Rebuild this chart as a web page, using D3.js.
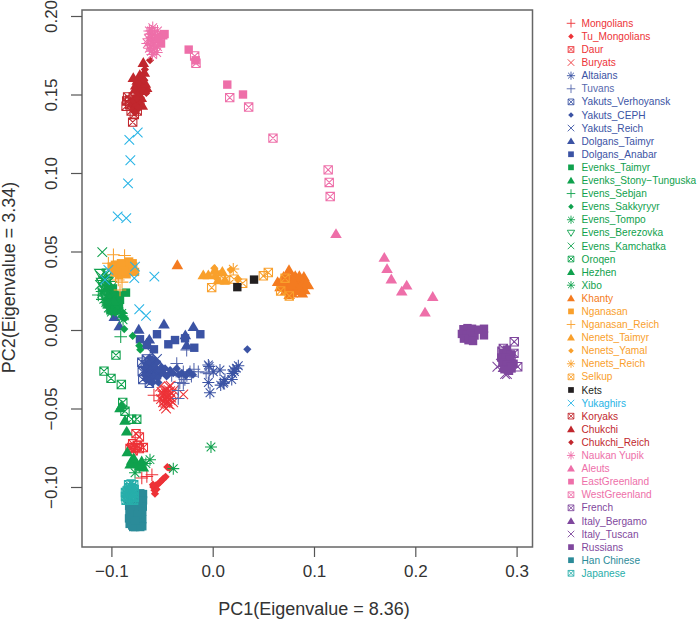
<!DOCTYPE html>
<html><head><meta charset="utf-8">
<script src="https://cdn.jsdelivr.net/npm/d3@7"></script>
<style>html,body{margin:0;padding:0;background:#fff}svg{display:block}text{font-family:"Liberation Sans",Arial,sans-serif}</style>
</head><body><div id="c"></div>
<script>
const xTicks=[-0.1,0,0.1,0.2,0.3];
const yTicks=[-0.10,-0.05,0,0.05,0.10,0.15,0.20];
const xTickLabels=["−0.1","0.0","0.1","0.2","0.3"];
const yTickLabels=["−0.10","−0.05","0.00","0.05","0.10","0.15","0.20"];
const Mongolians=[[-0.070,-0.0943],[-0.065,-0.0933],[-0.060,-0.0922],[-0.058,-0.0415],[-0.048,-0.039],[-0.052,-0.045]];
const Tu_Mongolians=[[-0.0586,-0.100],[-0.056,-0.099],[-0.052,-0.0969],[-0.0487,-0.0947],[-0.057,-0.1043],[-0.0448,-0.0873],[-0.0428,-0.0879],[-0.0545,-0.0985],[-0.0505,-0.096],[-0.0575,-0.102],[-0.0555,-0.1015],[-0.0465,-0.0935],[-0.059,-0.0985]];
const Daur=[[-0.0757,-0.066],[-0.0724,-0.0681],[-0.080,-0.0749],[-0.0767,-0.0749],[-0.0685,-0.0749],[-0.0816,-0.0755],[-0.0724,-0.0755],[-0.0785,-0.077],[-0.0745,-0.0735],[-0.079,-0.0725]];
const Buryats=[[-0.052,-0.036],[-0.029,-0.041],[-0.045,-0.0435],[-0.048,-0.041],[-0.042,-0.039],[-0.051,-0.044],[-0.044,-0.047],[-0.047,-0.038],[-0.041,-0.043],[-0.049,-0.046],[-0.046,-0.050],[-0.043,-0.036],[-0.039,-0.046],[-0.046,-0.0405],[-0.0435,-0.0415],[-0.0475,-0.0435],[-0.0445,-0.0455],[-0.042,-0.0445],[-0.0495,-0.0415],[-0.0465,-0.0465],[-0.0405,-0.0405],[-0.0455,-0.0385],[-0.0425,-0.0475],[-0.0505,-0.0395],[-0.048,-0.0485],[-0.0385,-0.0385],[-0.0445,-0.0425],[-0.0465,-0.045],[-0.0415,-0.0355]];
const Altaians=[[-0.0043,-0.0223],[-0.0027,-0.040],[-0.0043,-0.0334],[0.0079,-0.0351],[0.0121,-0.0315],[0.0188,-0.0315],[0.0006,-0.0266],[0.0072,-0.0255],[0.0203,-0.0255],[0.0253,-0.0228],[0.0233,-0.0243],[0.0112,-0.0331],[0.0196,-0.0277],[0.0105,-0.034],[-0.0035,-0.0232],[0.0215,-0.0265]];
const Tuvans=[[-0.0355,-0.0213],[-0.029,-0.0266],[-0.0224,-0.0266],[-0.0142,-0.0266],[-0.0257,-0.0128],[-0.029,-0.034],[-0.034,-0.0436],[-0.034,-0.0385],[-0.0306,-0.0298],[-0.0185,-0.025],[-0.0255,-0.029],[-0.0405,-0.029],[-0.0065,-0.0272],[-0.0035,-0.0278],[-0.0345,-0.0255],[-0.0275,-0.0315],[-0.021,-0.0295],[-0.0325,-0.0335]];
const Yakuts_Verhoyansk=[[-0.070,-0.0205],[-0.0695,-0.0265],[-0.069,-0.0315],[-0.0655,-0.0185],[-0.0645,-0.0245],[-0.0635,-0.030],[-0.0625,-0.034],[-0.060,-0.0205],[-0.059,-0.0265],[-0.058,-0.0315],[-0.056,-0.0225],[-0.0555,-0.0285],[-0.0665,-0.022],[-0.0615,-0.0275]];
const Yakuts_CEPH=[[0.0342,-0.0123],[-0.042,-0.0255],[-0.0355,-0.0245],[-0.0485,-0.0275],[-0.052,-0.0285],[-0.056,-0.0245],[-0.061,-0.022],[-0.0645,-0.0275],[-0.0605,-0.031],[-0.0575,-0.0195],[-0.0665,-0.025],[-0.0625,-0.0175],[-0.0455,-0.0295],[-0.039,-0.0275],[-0.0305,-0.0275],[-0.0265,-0.029],[-0.066,-0.0215],[-0.0645,-0.0225],[-0.0625,-0.0205],[-0.0595,-0.0185],[-0.0585,-0.0225],[-0.0545,-0.0205],[-0.0565,-0.0275],[-0.059,-0.0255],[-0.0615,-0.0255],[-0.0635,-0.029],[-0.0655,-0.0315],[-0.0585,-0.0295],[-0.0625,-0.0325],[-0.0595,-0.0335],[-0.0545,-0.0305],[-0.0525,-0.0255],[-0.0505,-0.0235],[-0.047,-0.0245],[-0.044,-0.0285],[-0.0335,-0.0285],[-0.023,-0.0265],[-0.0195,-0.0285],[-0.0675,-0.0285],[-0.0535,-0.0335]];
const Yakuts_Reich=[[-0.062,-0.024],[-0.058,-0.030],[-0.065,-0.028],[-0.0595,-0.015],[-0.055,-0.0185]];
const Dolgans_Taimyr=[[-0.0971,0.0085],[-0.0922,0.0026],[-0.073,0.0004],[-0.0626,-0.0059],[-0.0481,0.0038],[-0.0191,0.0021],[-0.027,-0.0032],[-0.0257,-0.0096],[-0.0652,-0.0085]];
const Dolgans_Anabar=[[-0.0718,-0.0059],[-0.055,-0.0027],[-0.058,-0.0123],[-0.0438,-0.0091],[-0.0372,-0.0064],[-0.0273,-0.0053],[-0.0122,-0.0027],[-0.0182,-0.0113],[-0.0649,-0.0096]];
const Evenks_Taimyr=[[-0.0856,0.0238],[-0.0915,0.0192],[-0.1035,0.0265],[-0.101,0.024],[-0.099,0.019],[-0.097,0.0225],[-0.095,0.0165],[-0.0935,0.022],[-0.0975,0.0155],[-0.0945,0.0125],[-0.1025,0.0205],[-0.104,0.0165],[-0.1005,0.0155],[-0.0985,0.0265],[-0.0955,0.0205],[-0.0925,0.0155],[-0.0975,0.012],[-0.101,0.0125],[-0.0995,0.0225]];
const Evenks_Stony_Tunguska=[[-0.103,0.022],[-0.1,0.017],[-0.0955,0.0145],[-0.1015,0.0285],[-0.0975,0.0185]];
const Evens_Sebjan=[[-0.0908,-0.0043],[-0.1129,0.0223],[-0.109,0.0195],[-0.105,0.0235],[-0.1065,0.0275]];
const Evens_Sakkyryyr=[[-0.0873,0.0006],[-0.079,-0.0038],[-0.0725,-0.01],[-0.0898,0.0085],[-0.0885,0.011],[-0.0715,-0.0125],[-0.0865,0.0075]];
const Evens_Tompo=[[-0.0898,0.0106],[-0.103,0.014],[-0.1065,0.0255],[-0.0885,0.0065],[-0.1,0.0115],[-0.1075,0.0195],[-0.1085,0.0315],[-0.1045,0.0335],[-0.0925,0.0115],[-0.1055,0.0175],[-0.1095,0.0245]];
const Evens_Berezovka=[[-0.1113,0.0362],[-0.1079,0.0276],[-0.1045,0.0315],[-0.107,0.0225],[-0.1035,0.0365],[-0.1095,0.0305],[-0.1005,0.0285]];
const Evens_Kamchatka=[[-0.109,0.0496],[-0.1113,0.0287],[-0.1075,0.0325],[-0.1045,0.0265],[-0.109,0.0235],[-0.1055,0.0355],[-0.1025,0.0305],[-0.1105,0.0345],[-0.1065,0.0275]];
const Oroqen=[[-0.0955,-0.016],[-0.1073,-0.0262],[-0.1004,-0.0308],[-0.0902,-0.0347],[-0.0888,-0.0462],[-0.0866,-0.0517],[-0.08,-0.0568],[-0.075,-0.0568]];
const Hezhen=[[-0.0898,-0.0479],[-0.0866,-0.0575],[-0.0849,-0.0645],[-0.0915,-0.0496],[-0.0843,-0.0777],[-0.08,-0.083],[-0.0701,-0.0835],[-0.0685,-0.0873],[-0.075,-0.0851],[-0.078,-0.0815],[-0.072,-0.0865],[-0.0815,-0.0855]];
const Xibo=[[-0.0017,-0.0745],[-0.0389,-0.0883],[-0.0619,-0.0826],[-0.0767,-0.0909],[-0.066,-0.085],[-0.072,-0.087]];
const Khanty=[[-0.0349,0.0415],[0.0753,0.0383],[0.0641,0.0308],[0.0944,0.0287],[0.0812,0.0298],[0.07,0.034],[0.073,0.03],[0.077,0.026],[0.082,0.025],[0.088,0.028],[0.09,0.034],[0.068,0.029],[0.079,0.034],[0.085,0.032],[0.072,0.025],[0.091,0.0255],[0.0745,0.0345],[0.0765,0.031],[0.0805,0.0275],[0.0845,0.0275],[0.0785,0.0235],[0.0745,0.0275],[0.0865,0.025],[0.0895,0.0305],[0.0705,0.0275],[0.0835,0.0295],[0.0725,0.0325],[0.0885,0.0235],[0.0665,0.0275],[0.0815,0.0345],[0.0775,0.0285],[0.0855,0.0345],[0.0685,0.0315],[0.0925,0.03],[0.0755,0.0225],[0.0795,0.0315]];
const Nganasan=[[-0.0997,0.0404],[-0.0965,0.0375],[-0.0945,0.0415],[-0.0915,0.0385],[-0.0885,0.0415],[-0.0855,0.0395],[-0.0825,0.0436],[-0.0785,0.0405],[-0.0767,0.037],[-0.0925,0.035],[-0.085,0.0355],[-0.079,0.0425],[-0.0965,0.0415],[-0.0905,0.0425],[-0.0815,0.0385],[-0.0875,0.0375],[-0.0945,0.0365]];
const Nganasan_Reich=[[-0.098,0.0479],[-0.103,0.0425],[-0.0932,0.0319],[-0.096,0.0345],[-0.087,0.0475],[-0.0895,0.0305],[-0.0915,0.0255]];
const Nenets_Taimyr=[[-0.0093,0.0351],[-0.0043,0.0351],[0.0023,0.0383],[0.0095,0.0372],[0.0121,0.0319],[0.0055,0.0319]];
const Nenets_Yamal=[[0.0016,0.0394],[0.0023,0.034],[0.0178,0.0383],[0.0253,0.0324]];
const Nenets_Reich=[[0.0203,0.0388],[0.0035,0.0355]];
const Selkup=[[-0.001,0.027],[0.0121,0.0319],[0.021,0.0324],[0.0296,0.0298],[0.05,0.0345],[0.0549,0.0366],[0.0671,0.0249],[0.0756,0.0217],[0.0714,0.033]];
const Kets=[[0.0243,0.0273],[0.0408,0.0321]];
const Yukaghirs=[[-0.074,0.1258],[-0.0823,0.1211],[-0.0813,0.1081],[-0.0836,0.0934],[-0.0938,0.0724],[-0.0853,0.0713],[-0.0576,0.034],[-0.0767,0.0404],[-0.0774,0.033],[-0.103,0.0383],[-0.0725,0.0132],[-0.0658,0.0091],[-0.1063,0.0319]];
const Koryaks=[[-0.079,0.1324],[-0.0774,0.1373],[-0.075,0.1469],[-0.0849,0.1458],[-0.082,0.1435],[-0.0855,0.1425],[-0.0785,0.1485],[-0.0765,0.142],[-0.072,0.1455],[-0.0805,0.1395],[-0.0735,0.1505],[-0.084,0.1485],[-0.0775,0.1445],[-0.0745,0.1395],[-0.082,0.1465]];
const Chukchi=[[-0.0685,0.1703],[-0.0784,0.1607],[-0.072,0.1625],[-0.0652,0.1543],[-0.0725,0.153],[-0.0695,0.1585],[-0.076,0.156],[-0.0675,0.164],[-0.0705,0.148],[-0.0745,0.159],[-0.0705,0.1555],[-0.0735,0.1575],[-0.0685,0.1525],[-0.0765,0.1535],[-0.0745,0.1495],[-0.0695,0.1615],[-0.0665,0.157],[-0.0785,0.1445],[-0.0755,0.1425],[-0.0725,0.1445],[-0.0695,0.143]];
const Chukchi_Reich=[[-0.0619,0.1718],[-0.067,0.166],[-0.0675,0.159],[-0.0655,0.151],[-0.0805,0.1435],[-0.078,0.146],[-0.0765,0.1425],[-0.079,0.14],[-0.0745,0.1475],[-0.0735,0.1415],[-0.0765,0.1385]];
const Naukan_Yupik=[[-0.0602,0.1863],[-0.0553,0.1767],[-0.0592,0.1926],[-0.0615,0.181],[-0.0635,0.1855],[-0.0575,0.1885],[-0.056,0.1835],[-0.0605,0.1775],[-0.0625,0.1905],[-0.0545,0.1905],[-0.0585,0.1815],[-0.0625,0.1795],[-0.0595,0.1845],[-0.0615,0.1885],[-0.0565,0.1865],[-0.0535,0.1855],[-0.0575,0.1795],[-0.0645,0.1825],[-0.0605,0.1905],[-0.0515,0.1875],[-0.0545,0.1805],[-0.0595,0.1755]];
const Aleuts=[[0.1694,0.0462],[0.1721,0.039],[0.1763,0.0324],[0.1915,0.0285],[0.1866,0.0247],[0.2172,0.0213],[0.2096,0.0113],[0.1217,0.0613]];
const EastGreenland=[[-0.0488,0.1877],[-0.0475,0.1885],[-0.051,0.1825],[-0.0535,0.186],[-0.0237,0.1786],[-0.0168,0.1718],[0.0144,0.1563],[0.0299,0.15]];
const WestGreenland=[[-0.0178,0.1745],[-0.0165,0.1699],[0.0168,0.148],[0.0355,0.142],[0.0595,0.1222],[0.114,0.102],[0.115,0.094],[0.116,0.085]];
const French=[[0.2977,-0.0075],[0.2974,-0.0149],[0.3011,-0.0234],[0.2869,-0.0117],[0.2855,-0.0135],[0.2945,-0.0165]];
const Italy_Bergamo=[[0.29,-0.018],[0.2925,-0.0225],[0.287,-0.024]];
const Italy_Tuscan=[[0.281,-0.0234],[0.2886,-0.0281],[0.2905,-0.0281],[0.2845,-0.0215]];
const Russians=[[0.2475,0.0005],[0.2515,0.0012],[0.256,0.0008],[0.246,-0.0025],[0.2505,-0.003],[0.2545,-0.0025],[0.2585,-0.0035],[0.248,-0.0055],[0.2525,-0.0065],[0.257,-0.007],[0.2678,0.0008],[0.2678,-0.0034],[0.2625,0.0002],[0.2862,-0.0145],[0.2905,-0.0125],[0.2945,-0.0155],[0.2848,-0.0175],[0.289,-0.0175],[0.2935,-0.019],[0.297,-0.0215],[0.286,-0.021],[0.2905,-0.022],[0.2945,-0.0235],[0.288,-0.025],[0.2925,-0.026],[0.295,-0.0245]];
const Han_Chinese=[[-0.0688,-0.1045],[-0.0688,-0.1085],[-0.0715,-0.104],[-0.0715,-0.109],[-0.0775,-0.1105],[-0.0825,-0.112],[-0.0725,-0.1125],[-0.0690,-0.1125],[-0.0822,-0.116],[-0.0785,-0.1145],[-0.0735,-0.115],[-0.0695,-0.1155],[-0.0826,-0.120],[-0.0805,-0.1195],[-0.0755,-0.120],[-0.0695,-0.1205],[-0.0715,-0.1195],[-0.0820,-0.1235],[-0.0795,-0.1245],[-0.0745,-0.1245],[-0.0695,-0.125],[-0.0785,-0.1255],[-0.0765,-0.1255],[-0.0715,-0.1255],[-0.0775,-0.1175],[-0.0745,-0.1175],[-0.0765,-0.1215],[-0.0735,-0.1085]];
const Japanese=[[-0.083,-0.0985],[-0.0805,-0.098],[-0.078,-0.0985],[-0.0815,-0.1005],[-0.079,-0.101],[-0.0775,-0.1015],[-0.0835,-0.102],[-0.0861,-0.1035],[-0.0845,-0.1045],[-0.082,-0.104],[-0.0795,-0.1035],[-0.0775,-0.104],[-0.0861,-0.106],[-0.084,-0.1065],[-0.0815,-0.1065],[-0.079,-0.106],[-0.0775,-0.1065],[-0.0855,-0.1085],[-0.083,-0.1085],[-0.0805,-0.1085],[-0.078,-0.1085],[-0.0845,-0.1025],[-0.081,-0.1025],[-0.0825,-0.1005]];

const red="#ed3237",blue="#3b53a4",blueL="#5668ad",green="#0fa14d",orangeD="#f47b20",orange="#f9a02c",black="#231f20",cyan="#27b4e6",dred="#c1272d",pink="#ee6fa9",purple="#7f479d",teal="#2b8b99",tealL="#27aeaa";
const groups=[
["Mongolians",Mongolians,"plus",red],["Tu_Mongolians",Tu_Mongolians,"diamond",red],["Daur",Daur,"boxx",red],["Buryats",Buryats,"x",red],
["Altaians",Altaians,"star",blue],["Tuvans",Tuvans,"plus",blueL],["Yakuts_Verhoyansk",Yakuts_Verhoyansk,"boxx",blue],["Yakuts_CEPH",Yakuts_CEPH,"diamond",blue],["Yakuts_Reich",Yakuts_Reich,"x",blue],["Dolgans_Taimyr",Dolgans_Taimyr,"tri",blue],["Dolgans_Anabar",Dolgans_Anabar,"square",blue],
["Evenks_Taimyr",Evenks_Taimyr,"square",green],["Evenks_Stony−Tunguska",Evenks_Stony_Tunguska,"tri",green],["Evens_Sebjan",Evens_Sebjan,"plus",green],["Evens_Sakkyryyr",Evens_Sakkyryyr,"diamond",green],["Evens_Tompo",Evens_Tompo,"star",green],["Evens_Berezovka",Evens_Berezovka,"tridown",green],["Evens_Kamchatka",Evens_Kamchatka,"x",green],["Oroqen",Oroqen,"boxx",green],["Hezhen",Hezhen,"tri",green],["Xibo",Xibo,"star",green],
["Khanty",Khanty,"tri",orangeD],["Nganasan",Nganasan,"square",orange],["Nganasan_Reich",Nganasan_Reich,"plus",orange],["Nenets_Taimyr",Nenets_Taimyr,"tri",orange],["Nenets_Yamal",Nenets_Yamal,"diamond",orange],["Nenets_Reich",Nenets_Reich,"star",orange],["Selkup",Selkup,"boxx",orange],
["Kets",Kets,"square",black],["Yukaghirs",Yukaghirs,"x",cyan],["Koryaks",Koryaks,"boxx",dred],["Chukchi",Chukchi,"tri",dred],["Chukchi_Reich",Chukchi_Reich,"diamond",dred],
["Naukan Yupik",Naukan_Yupik,"star",pink],["Aleuts",Aleuts,"tri",pink],["EastGreenland",EastGreenland,"square",pink],["WestGreenland",WestGreenland,"boxx",pink],
["French",French,"boxx",purple],["Italy_Bergamo",Italy_Bergamo,"tri",purple],["Italy_Tuscan",Italy_Tuscan,"x",purple],["Russians",Russians,"square",purple],["Han Chinese",Han_Chinese,"square",teal],["Japanese",Japanese,"boxx",tealL]
];

const W=698,H=620,box={l:82,r:532.5,t:10,b:547};
const x=d3.scaleLinear().domain([0,0.1]).range([212.7,314]);
const y=d3.scaleLinear().domain([0,0.05]).range([330,251.5]);
const svg=d3.select("#c").append("svg").attr("width",W).attr("height",H);
const axisCol="#666",textCol="#333";

function sym(k,s){
  const a=4.2*s;
  switch(k){
    case "plus":{const r=6.3*s;return `M${-r},0H${r}M0,${-r}V${r}`;}
    case "x":{const r=4.8*s;return `M${-r},${-r}L${r},${r}M${-r},${r}L${r},${-r}`;}
    case "star":{const r=6*s,d=r*0.72;return `M${-r},0H${r}M0,${-r}V${r}M${-d},${-d}L${d},${d}M${-d},${d}L${d},${-d}`;}
    case "boxx":return `M${-a},${-a}H${a}V${a}H${-a}ZM${-a},${-a}L${a},${a}M${-a},${a}L${a},${-a}`;
    case "square":return `M${-a},${-a}H${a}V${a}H${-a}Z`;
    case "diamond":{const r=4.1*s;return `M0,${-r}L${r},0L0,${r}L${-r},0Z`;}
    case "tri":{const r=5.8*s;return `M0,${-r*0.95}L${r},${r*0.75}H${-r}Z`;}
    case "tridown":{const r=5.4*s;return `M0,${r*0.95}L${r},${-r*0.7}H${-r}Z`;}
  }
}
const filled=new Set(["square","diamond","tri"]);
function styled(sel,k,c,lw){
  sel.attr("d",d=>d.path).attr("fill",filled.has(k)?c:"none").attr("stroke",filled.has(k)?"none":c).attr("stroke-width",lw);
}
groups.forEach(([name,pts,k,c])=>{
  const g=svg.append("g").attr("class","series");
  styled(g.selectAll("path").data(pts.map(p=>({p,path:sym(k,1)}))).join("path")
    .attr("transform",d=>`translate(${x(d.p[0])},${y(d.p[1])})`),k,c,1.05);
});

// frame and axes
svg.append("rect").attr("x",box.l).attr("y",box.t).attr("width",box.r-box.l).attr("height",box.b-box.t).attr("fill","none").attr("stroke",axisCol).attr("stroke-width",1.5);
const gx=svg.append("g").attr("transform",`translate(0,${box.b})`).call(d3.axisBottom(x).tickValues(xTicks).tickFormat((d,i)=>xTickLabels[i]).tickSize(10).tickPadding(8));
const gy=svg.append("g").attr("transform",`translate(${box.l},0)`).call(d3.axisLeft(y).tickValues(yTicks).tickFormat((d,i)=>yTickLabels[i]).tickSize(11).tickPadding(7));
gx.select(".domain").remove();gy.select(".domain").remove();
svg.selectAll(".tick line").attr("stroke","#555").attr("stroke-width",1.2);
gx.selectAll("text").attr("font-size",17).attr("fill",textCol).attr("font-family","Liberation Sans");
gy.selectAll("text").attr("font-size",17).attr("fill",textCol).attr("font-family","Liberation Sans")
  .attr("text-anchor","middle").attr("dy",0).attr("x",0).attr("y",0)
  .attr("transform","translate(-25.3,0) rotate(-90)");
svg.append("text").attr("x",314).attr("y",615).attr("text-anchor","middle").attr("font-size",18).attr("fill",textCol).text("PC1(Eigenvalue = 8.36)");
svg.append("text").attr("transform","translate(15,277.5) rotate(-90)").attr("text-anchor","middle").attr("font-size",18).attr("fill",textCol).text("PC2(Eigenvalue = 3.34)");

// legend
const lg=svg.append("g").attr("class","legend");
const ly=d3.scalePoint().domain(groups.map(g=>g[0])).range([23.3,573.3]);
groups.forEach(([name,pts,k,c])=>{
  const g=lg.append("g").attr("transform",`translate(0,${ly(name)})`);
  styled(g.append("path").datum({path:sym(k,0.68)}).attr("transform","translate(571,0)"),k,c,0.9);
  g.append("text").attr("x",581.5).attr("y",3.6).attr("font-size",10.15).attr("fill",c).text(name);
});
</script></body></html>
